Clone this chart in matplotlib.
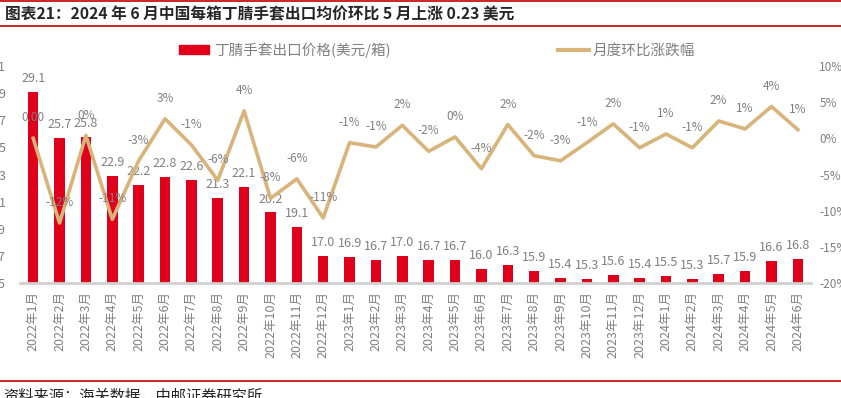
import numpy as np
import matplotlib
matplotlib.use("Agg")
import matplotlib.pyplot as plt
from matplotlib.lines import Line2D
from matplotlib.patches import Patch

plt.rcParams['font.family'] = ['Noto Sans CJK SC', 'DejaVu Sans']

months = ["2022年1月", "2022年2月", "2022年3月", "2022年4月", "2022年5月", "2022年6月",
          "2022年7月", "2022年8月", "2022年9月", "2022年10月", "2022年11月", "2022年12月",
          "2023年1月", "2023年2月", "2023年3月", "2023年4月", "2023年5月", "2023年6月",
          "2023年7月", "2023年8月", "2023年9月", "2023年10月", "2023年11月", "2023年12月",
          "2024年1月", "2024年2月", "2024年3月", "2024年4月", "2024年5月", "2024年6月"]
price = [29.1, 25.7, 25.8, 22.9, 22.2, 22.8, 22.6, 21.3, 22.1, 20.2, 19.1, 17.0,
         16.9, 16.7, 17.0, 16.7, 16.7, 16.0, 16.3, 15.9, 15.4, 15.3, 15.6, 15.4,
         15.5, 15.3, 15.7, 15.9, 16.6, 16.8]
mom = [0.0, -11.7, 0.4, -11.2, -3.1, 2.7, -0.9, -5.8, 3.8, -8.3, -5.6, -11.0,
       -0.6, -1.2, 1.8, -1.8, 0.2, -4.2, 1.9, -2.4, -3.1, -0.6, 2.0, -1.3,
       0.6, -1.3, 2.4, 1.3, 4.4, 1.2]

bar_color = "#E0001B"
line_color = "#D9B47A"
txt_gray = "#808080"

W, H = 841, 398
fig = plt.figure(figsize=(W / 100, H / 100), dpi=100)
ax = fig.add_axes([20 / W, 115 / H, 791 / W, 217 / H])
ax2 = ax.twinx()

x = np.arange(len(months))
ax.bar(x, price, width=0.4, color=bar_color, zorder=2)
ax.set_xlim(-0.5, len(months) - 0.5)
ax.set_ylim(15, 31)
ax.set_yticks(np.arange(15, 32, 2))
ax.set_xticks(x)
ax.set_xticklabels(months, rotation=90, fontsize=9, color=txt_gray)
ax.tick_params(axis='x', length=0, pad=6)
ax.tick_params(axis='y', length=0, pad=10, labelsize=9, labelcolor=txt_gray)

for xi, v in zip(x, price):
    ax.annotate(f"{v:.1f}", (xi, v), xytext=(0, 5), textcoords="offset points",
                ha="center", va="bottom", fontsize=9, color=txt_gray, zorder=5)

ax2.plot(x, mom, color=line_color, lw=2.6, zorder=3)
ax2.set_ylim(-20, 10)
ax2.set_yticks(np.arange(-20, 11, 5))
ax2.set_yticklabels([f"{t}%" for t in range(-20, 11, 5)])
ax2.tick_params(axis='y', length=0, pad=6, labelsize=8.5, labelcolor=txt_gray)

for i, (xi, v) in enumerate(zip(x, mom)):
    lab = "0.00" if i == 0 else f"{v:.0f}%"
    ax2.annotate(lab, (xi, v), xytext=(0, 10), textcoords="offset points",
                 ha="center", va="bottom", fontsize=8.5, color=txt_gray, zorder=5)

for a in (ax, ax2):
    for s in a.spines.values():
        s.set_visible(False)
ax.spines['bottom'].set_visible(True)
ax.spines['bottom'].set_color("#D0D0D0")
ax.spines['bottom'].set_linewidth(2)

handles = [Patch(color=bar_color, label="丁腈手套出口价格(美元/箱)"),
           Line2D([0], [0], color=line_color, lw=3, label="月度环比涨跌幅")]
fig.legend(handles=handles, loc="center", bbox_to_anchor=(437 / W, 1 - 50 / H), ncol=2,
           frameon=False, fontsize=10.5, handlelength=2.1, handleheight=0.5,
           handletextpad=0.3, columnspacing=11.5, labelcolor=txt_gray)

# title and footer
fig.text(5 / W, 1 - 14 / H, "图表21：2024 年 6 月中国每箱丁腈手套出口均价环比 5 月上涨 0.23 美元",
         fontsize=11.3, fontweight="bold", color="#262626", ha="left", va="center")
fig.add_artist(Line2D([0, 1], [1 - 1 / H, 1 - 1 / H], color="#C00000", lw=1.2))
fig.add_artist(Line2D([0, 1], [1 - 26 / H, 1 - 26 / H], color="#C00000", lw=1.2))
fig.add_artist(Line2D([0, 1], [1 - 381 / H, 1 - 381 / H], color="#C00000", lw=1.2))
fig.text(3 / W, 1 - 396 / H, "资料来源：海关数据，中邮证券研究所", fontsize=11,
         color="#262626", ha="left", va="center")

fig.savefig("out.png", dpi=100)
